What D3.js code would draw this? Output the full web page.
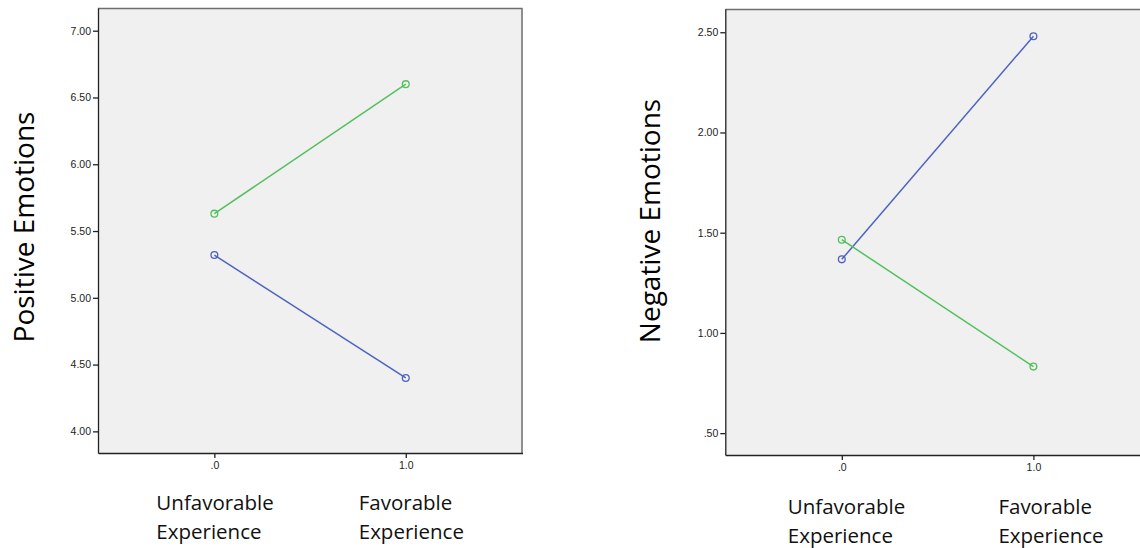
<!DOCTYPE html>
<html>
<head>
<meta charset="utf-8">
<script src="https://cdn.jsdelivr.net/npm/d3@7"></script>
<style>
  body { margin: 0; background: #fff; }
  svg { display: block; }
  .tick text { font-family: Arial, "Liberation Sans", sans-serif; font-size: 10.5px; fill: #222; }
  .cat { font-family: "Open Sans", sans-serif; font-size: 20.5px; fill: #111; }
  .ytitle { font-family: "Open Sans", sans-serif; font-size: 28px; fill: #000; }
</style>
</head>
<body>
<svg id="chart" width="1140" height="548"></svg>
<script>
// data
const xValues = [0, 1]
const xTickLabels = [".0", "1.0"]
const catLabels = [["Unfavorable", "Experience"], ["Favorable", "Experience"]]

const posGreen = [5.63, 6.60]
const posBlue = [5.32, 4.40]
const posTicks = [4.0, 4.5, 5.0, 5.5, 6.0, 6.5, 7.0]

const negBlue = [1.367, 2.48]
const negGreen = [1.465, 0.832]
const negTicks = [0.5, 1.0, 1.5, 2.0, 2.5]

const green = "#52c05e"
const blue = "#4e62c0"

const svg = d3.select('#chart')

function fmtY(v) {
    var s = v.toFixed(2)
    return s.startsWith("0") ? s.slice(1) : s
}

function drawPanel(opt) {
    const g = svg.append("g").attr('transform', `translate(${opt.left},${opt.top})`)
    const w = opt.width, h = opt.height

    const x = d3.scaleLinear().domain([-0.608, 1.61]).range([0, w])
    const y = d3.scaleLinear().domain(opt.yDomain).range([h, 0])

    g.append("rect")
        .attr("width", w).attr("height", h)
        .attr("fill", "#f0f0f0")

    // top and right border (gray), left/bottom come from axes
    g.append("path")
        .attr("d", `M0,0.5H${w - 0.5}V${h}`)
        .attr("fill", "none")
        .attr("stroke", "#6e6e6e")
        .attr("stroke-width", 1.5)

    const yAxis = d3.axisLeft(y).tickValues(opt.yTicks).tickFormat(fmtY)
        .tickSize(5).tickSizeOuter(0).tickPadding(2)
    const ya = g.append("g").call(yAxis)
    ya.select(".domain").attr("stroke", "#222").attr("stroke-width", 1.3)
    ya.selectAll(".tick line").attr("stroke", "#222").attr("stroke-width", 1.3)

    const xAxis = d3.axisBottom(x).tickValues(xValues).tickFormat((d, i) => xTickLabels[i])
        .tickSize(5).tickSizeOuter(0).tickPadding(4)
    const xa = g.append("g").attr('transform', `translate(0,${h})`).call(xAxis)
    xa.select(".domain").attr("stroke", "#222").attr("stroke-width", 1.3)
    xa.selectAll(".tick line").attr("stroke", "#222").attr("stroke-width", 1.3)

    const line = d3.line().x((d, i) => x(xValues[i])).y(d => y(d))

    opt.series.forEach(s => {
        g.append("path")
            .datum(s.values)
            .attr("d", line)
            .attr("fill", "none")
            .attr("stroke", s.color)
            .attr("stroke-width", 1.5)
        g.selectAll(null)
            .data(s.values)
            .enter().append("circle")
            .attr("cx", (d, i) => x(xValues[i]))
            .attr("cy", d => y(d))
            .attr("r", 3.4)
            .attr("fill", "none")
            .attr("stroke", s.color)
            .attr("stroke-width", 1.3)
    })

    // category labels under x ticks
    catLabels.forEach((lines, i) => {
        const t = g.append("text")
            .attr("class", "cat")
            .attr("x", x(xValues[i]) + opt.catDx[i])
            .attr("y", h + opt.catDy)
        lines.forEach((l, k) => {
            t.append("tspan")
                .attr("x", x(xValues[i]) + opt.catDx[i])
                .attr("dy", k == 0 ? 0 : opt.catLine)
                .text(l)
        })
    })

    svg.append("text")
        .attr("class", "ytitle")
        .attr("transform", `translate(${opt.titleX},${opt.titleY}) rotate(-90)`)
        .attr("text-anchor", "middle")
        .text(opt.title)
}

drawPanel({
    left: 98, top: 8, width: 424.5, height: 445,
    yDomain: [3.838, 7.17], yTicks: posTicks,
    series: [{ values: posGreen, color: green }, { values: posBlue, color: blue }],
    catDx: [-58, -47], catDy: 57, catLine: 29,
    title: "Positive Emotions", titleX: 34, titleY: 227
})

drawPanel({
    left: 725.3, top: 9, width: 425, height: 446,
    yDomain: [0.391, 2.616], yTicks: negTicks,
    series: [{ values: negBlue, color: blue }, { values: negGreen, color: green }],
    catDx: [-54, -35], catDy: 59, catLine: 29,
    title: "Negative Emotions", titleX: 660, titleY: 221
})
</script>
</body>
</html>
